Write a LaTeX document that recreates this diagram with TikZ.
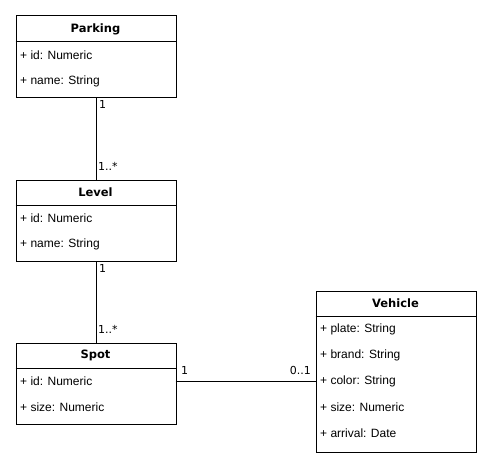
\documentclass[tikz,border=0pt]{standalone}
\usepackage{fontspec}
\setmainfont{Liberation Sans}
\newfontfamily\titlefont{DejaVu Sans}
\usetikzlibrary{positioning}
\begin{document}
\begin{tikzpicture}[x=1pt,y=-1pt,
  classbox/.style={draw,line width=1pt,minimum width=160pt,anchor=north west,inner sep=0pt},
  classtitle/.style={font=\titlefont\bfseries\fontsize{11.5}{13}\selectfont,anchor=center,inner sep=0pt},
  attr/.style={font=\fontsize{12}{14}\selectfont,anchor=west,inner sep=0pt},
  mult/.style={font=\titlefont\fontsize{11}{13}\selectfont,inner sep=0pt},
  conn/.style={line width=0.8pt}]
\useasboundingbox (0,0) rectangle (492,468);
% Parking
\node[classbox,minimum height=82pt] (parking) at (15.5,15.5) {};
\draw[line width=1pt] (15.5,42) coordinate (ph1) -- (175.5,42) coordinate (ph2);
\node[classtitle] (parkingt) at (95.5,29) {Parking};
\node[attr] (pa1) at (20,55) {+ id: Numeric};
\node[attr] (pa2) at (20,81) {+ name: String};
% Level
\node[classbox,minimum height=81pt] (level) at (15.5,179.5) {};
\draw[line width=1pt] (15.5,205.5) -- (175.5,205.5);
\node[classtitle] (levelt) at (95.5,192.5) {Level};
\node[attr] (la1) at (20,218) {+ id: Numeric};
\node[attr] (la2) at (20,244) {+ name: String};
% Spot
\node[classbox,minimum height=81pt] (spot) at (15.5,342.5) {};
\draw[line width=1pt] (15.5,368.5) -- (175.5,368.5);
\node[classtitle] (spott) at (95.5,355.5) {Spot};
\node[attr] (sa1) at (20,381) {+ id: Numeric};
\node[attr] (sa2) at (20,407) {+ size: Numeric};
% Vehicle
\node[classbox,minimum height=161pt] (vehicle) at (315.5,290.5) {};
\draw[line width=1pt] (315.5,316.5) -- (475.5,316.5);
\node[classtitle] (vehiclet) at (395.5,303.5) {Vehicle};
\node[attr] (va1) at (320,329) {+ plate: String};
\node[attr] (va2) at (320,355) {+ brand: String};
\node[attr] (va3) at (320,381) {+ color: String};
\node[attr] (va4) at (320,407) {+ size: Numeric};
\node[attr] (va5) at (320,433) {+ arrival: Date};
% connectors
\draw[conn] (parking.south) -- (level.north);
\draw[conn] (level.south) -- (spot.north);
\coordinate (sv) at (175.5,381);
\draw[conn] (sv) -- (sv -| vehicle.west);
% multiplicities
\node[mult,anchor=west] (m1) at (99,104) {1};
\node[mult,anchor=west] (m2) at (98,166) {1..*};
\node[mult,anchor=west] (m3) at (99,268) {1};
\node[mult,anchor=west] (m4) at (98,329) {1..*};
\node[mult,anchor=west] (m5) at (181,370) {1};
\node[mult,anchor=east] (m6) at (311,370) {0..1};
\end{tikzpicture}
\end{document}
